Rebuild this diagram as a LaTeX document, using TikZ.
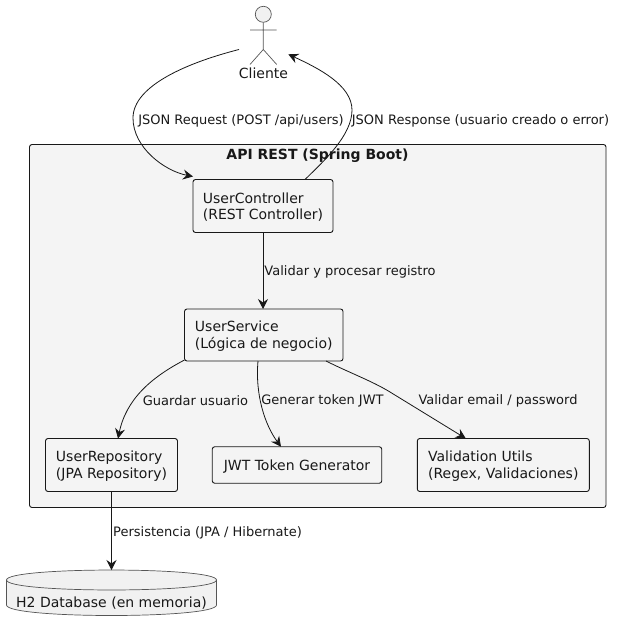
\documentclass[tikz,border=0pt]{standalone}
\usepackage{fontspec}
\setmainfont{DejaVu Sans}
\usetikzlibrary{arrows.meta,positioning}
\definecolor{ink}{HTML}{181818}
\definecolor{panel}{HTML}{F4F4F4}
\definecolor{actorfill}{HTML}{F1F1F1}
\definecolor{actorline}{HTML}{555555}
\newcommand{\toprule}{\rule{0pt}{13pt}}
\tikzset{
comp/.style={
  draw=ink,
  fill=panel,
  line width=0.9pt,
  rounded corners=2.5pt,
  rectangle,
  inner sep=0pt,
  outer sep=0pt,
  align=left,
  text=ink,
  font=\fontsize{14}{16.5}\selectfont,
},
lbl/.style={
  inner sep=0pt,
  outer sep=0pt,
  text=ink,
  font=\fontsize{13}{15}\selectfont,
},
pil/.style={
  -{Stealth[length=10pt,width=10pt,inset=3.5pt]},
  draw=ink,
  line width=0.8pt,
},
stick/.style={
  draw=actorline,
  line width=0.7pt,
},
}
\begin{document}
\begin{tikzpicture}[x=1pt,y=-1pt]
\useasboundingbox (0,0) rectangle (616,631);

% actor
\node[circle,draw=actorline,fill=actorfill,line width=0.7pt,minimum size=16pt,inner sep=0pt] (head) at (263.3,14.3) {};
\coordinate (hip) at (263.3,49.5);
\coordinate (armL) at (250,30);
\coordinate (armR) at (276.7,30);
\coordinate (footL) at (250,64.5);
\coordinate (footR) at (276.7,64.5);
\draw[stick] (head.south) -- (hip) (armL) -- (armR) (footL) -- (hip) -- (footR);
\node[inner sep=0pt,text=ink,font=\fontsize{14}{16.5}\selectfont] (cliente) at (263.5,73) {Cliente};
\coordinate (reqstart) at (239,49.5);
\coordinate (resend) at (288.3,54.3);

% cluster
\node[comp,minimum width=576.5pt,minimum height=363pt] (api) at (317.75,326) {};
\node[comp,draw=none,fill=none,font=\fontsize{14}{16.5}\selectfont\bfseries] (apititle) at (317.5,155.5) {API REST (Spring Boot)};

% components
\node[comp,minimum width=140pt,minimum height=53pt] (ctrl) at (263,206) {\toprule UserController\\(REST Controller)};
\node[comp,minimum width=158.5pt,minimum height=52pt,below=76.5pt of ctrl,xshift=0.75pt] (serv) {\toprule UserService\\(L\'ogica de negocio)};
\node[comp,minimum width=132pt,minimum height=53pt] (repo) at (111.5,465) {\toprule UserRepository\\(JPA Repository)};
\node[comp,minimum width=169.5pt,minimum height=36.5pt] (jwt) at (297,465) {\toprule JWT Token Generator};
\node[comp,minimum width=172pt,minimum height=53pt] (valid) at (503.3,465) {\toprule Validation Utils\\(Regex, Validaciones)};

% database
\coordinate (dbtop) at (111.5,570);
\draw[draw=actorline,fill=actorfill,line width=0.7pt] (6.5,580) .. controls (6.5,566.7) and (216.5,566.7) .. (216.5,580)
  -- (216.5,605) .. controls (216.5,619) and (6.5,619) .. (6.5,605) -- cycle;
\draw[draw=actorline,line width=0.7pt] (6.5,580) .. controls (6.5,593.3) and (216.5,593.3) .. (216.5,580);
\node[inner sep=0pt,text=ink,font=\fontsize{14}{16.5}\selectfont] (db) at (111.5,603) {H2 Database (en memoria)};

% connectors
\draw[pil] (reqstart) .. controls (190,62) and (133,85) .. (133,118) .. controls (133,148) and (165,171) .. ([yshift=3pt]ctrl.north west);
\draw[pil] ([xshift=42pt]ctrl.north) .. controls (325,160) and (352,135) .. (352,110) .. controls (352,85) and (318,68) .. (resend);
\draw[pil] (ctrl.south) -- (ctrl.south |- serv.north);
\draw[pil] ([yshift=1pt]serv.south west) .. controls (150,378) and (126,400) .. ([xshift=6.5pt]repo.north);
\draw[pil] ([xshift=-5.75pt]serv.south) .. controls (255,395) and (265,425) .. ([xshift=-16pt]jwt.north);
\draw[pil] ([xshift=62.25pt]serv.south) .. controls (350,373) and (372,381) .. (390,392) -- ([xshift=-37.5pt]valid.north);
\draw[pil] (repo.south) -- (dbtop);

% labels
\node[lbl] (l1) at (241,121) {JSON Request (POST /api/users)};
\node[lbl] (l2) at (480.5,121) {JSON Response (usuario creado o error)};
\node[lbl] (l3) at (350,272) {Validar y procesar registro};
\node[lbl] (l4) at (195.5,401) {Guardar usuario};
\node[lbl] (l5) at (322.5,401) {Generar token JWT};
\node[lbl] (l6) at (498,401) {Validar email / password};
\node[lbl] (l7) at (207.5,533) {Persistencia (JPA / Hibernate)};
\end{tikzpicture}
\end{document}
